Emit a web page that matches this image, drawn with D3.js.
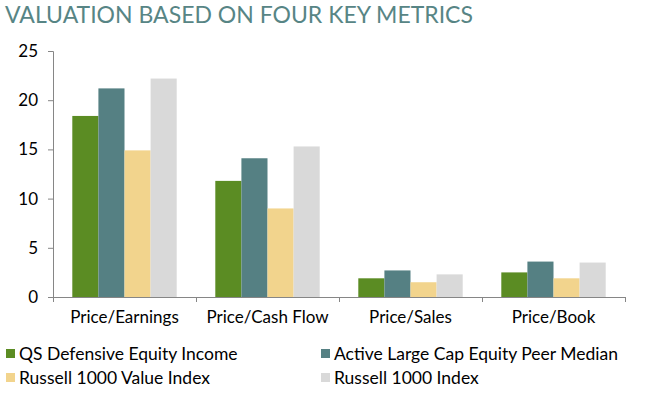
<!DOCTYPE html>
<html>
<head>
<meta charset="utf-8">
<script src="https://cdn.jsdelivr.net/npm/d3@7"></script>
<style>
  body { margin: 0; background: #fff; }
  text { font-family: Lato, "Open Sans", sans-serif; }
</style>
</head>
<body>
<div id="chart"></div>
<script>
const categories = ['Price/Earnings', 'Price/Cash Flow', 'Price/Sales', 'Price/Book'];
const seriesNames = ['QS Defensive Equity Income', 'Active Large Cap Equity Peer Median', 'Russell 1000 Value Index', 'Russell 1000 Index'];
const qsDefensive = [18.4, 11.8, 1.9, 2.5];
const peerMedian = [21.2, 14.1, 2.7, 3.6];
const russellValue = [14.9, 9.0, 1.5, 1.9];
const russell1000 = [22.2, 15.3, 2.3, 3.5];
const yTicks = [0, 5, 10, 15, 20, 25];
const colors = ['#5b8c23', '#558083', '#f2d48d', '#d9d9d9'];

const seriesValues = [qsDefensive, peerMedian, russellValue, russell1000];

const dimensions = {
  width: 645,
  height: 394,
  margin: { top: 51, bottom: 97, left: 53, right: 20 },
};
dimensions.containerWidth = dimensions.width - dimensions.margin.left - dimensions.margin.right;
dimensions.containerHeight = dimensions.height - dimensions.margin.top - dimensions.margin.bottom;

const svg = d3.select('#chart').append('svg').attr('width', dimensions.width).attr('height', dimensions.height);

svg.append('text')
  .attr('x', 5)
  .attr('y', 23)
  .attr('fill', '#578585')
  .style('font-size', '23px')
  .text('VALUATION BASED ON FOUR KEY METRICS');

const container = svg.append('g').attr('transform', `translate(${dimensions.margin.left}, ${dimensions.margin.top})`);

const xScale = d3.scaleBand().domain(categories).range([0, dimensions.containerWidth]).paddingInner(0.27).paddingOuter(0.135);
const subScale = d3.scaleBand().domain(d3.range(seriesNames.length)).range([0, xScale.bandwidth()]);
const yScale = d3.scaleLinear().domain([0, 25]).range([dimensions.containerHeight, 0]);

const groups = container.selectAll('g.group')
  .data(categories)
  .join('g')
  .attr('class', 'group')
  .attr('transform', (d) => `translate(${xScale(d)}, 0)`);

groups.selectAll('rect')
  .data((d, i) => seriesValues.map((vals, s) => ({ s, v: vals[i] })))
  .join('rect')
  .attr('x', (d) => subScale(d.s))
  .attr('width', subScale.bandwidth())
  .attr('y', (d) => yScale(d.v))
  .attr('height', (d) => yScale(0) - yScale(d.v))
  .attr('fill', (d) => colors[d.s]);

// y axis
const yAxis = d3.axisLeft(yScale).tickValues(yTicks).tickSize(5).tickPadding(10);
const yAxisGroup = container.append('g').call(yAxis);
yAxisGroup.select('.domain').attr('stroke', '#868686').attr('d', `M-5,0.5H0.5V${dimensions.containerHeight}`);
yAxisGroup.selectAll('.tick line').attr('stroke', '#868686');
yAxisGroup.selectAll('.tick text').style('font-size', '17px').attr('fill', '#000').style('font-family', 'Lato, sans-serif');

// x axis with boundary ticks
const xAxisGroup = container.append('g').attr('transform', `translate(0, ${dimensions.containerHeight})`);
xAxisGroup.append('line')
  .attr('x1', 0).attr('x2', dimensions.containerWidth)
  .attr('y1', 0.5).attr('y2', 0.5)
  .attr('stroke', '#868686');
const step = dimensions.containerWidth / categories.length;
xAxisGroup.selectAll('line.bound')
  .data(d3.range(categories.length + 1))
  .join('line')
  .attr('class', 'bound')
  .attr('x1', (d) => Math.round(d * step) + 0.5)
  .attr('x2', (d) => Math.round(d * step) + 0.5)
  .attr('y1', 0).attr('y2', 5)
  .attr('stroke', '#868686');
xAxisGroup.selectAll('text')
  .data(categories)
  .join('text')
  .attr('x', (d) => xScale(d) + xScale.bandwidth() / 2)
  .attr('y', 26)
  .attr('text-anchor', 'middle')
  .attr('fill', '#000')
  .style('font-size', '17px')
  .text((d) => d);

// legend
const legendPos = [[6, 354], [321, 354], [6, 378], [321, 378]];
const legend = svg.append('g').selectAll('g')
  .data(seriesNames)
  .join('g')
  .attr('transform', (d, i) => `translate(${legendPos[i][0]}, ${legendPos[i][1]})`);
legend.append('rect')
  .attr('x', 0).attr('y', -5)
  .attr('width', 9).attr('height', 9)
  .attr('fill', (d, i) => colors[i]);
legend.append('text')
  .attr('x', 13)
  .attr('y', 0)
  .attr('dy', '0.35em')
  .attr('fill', '#000')
  .style('font-size', '17.5px')
  .text((d) => d);
</script>
</body>
</html>
